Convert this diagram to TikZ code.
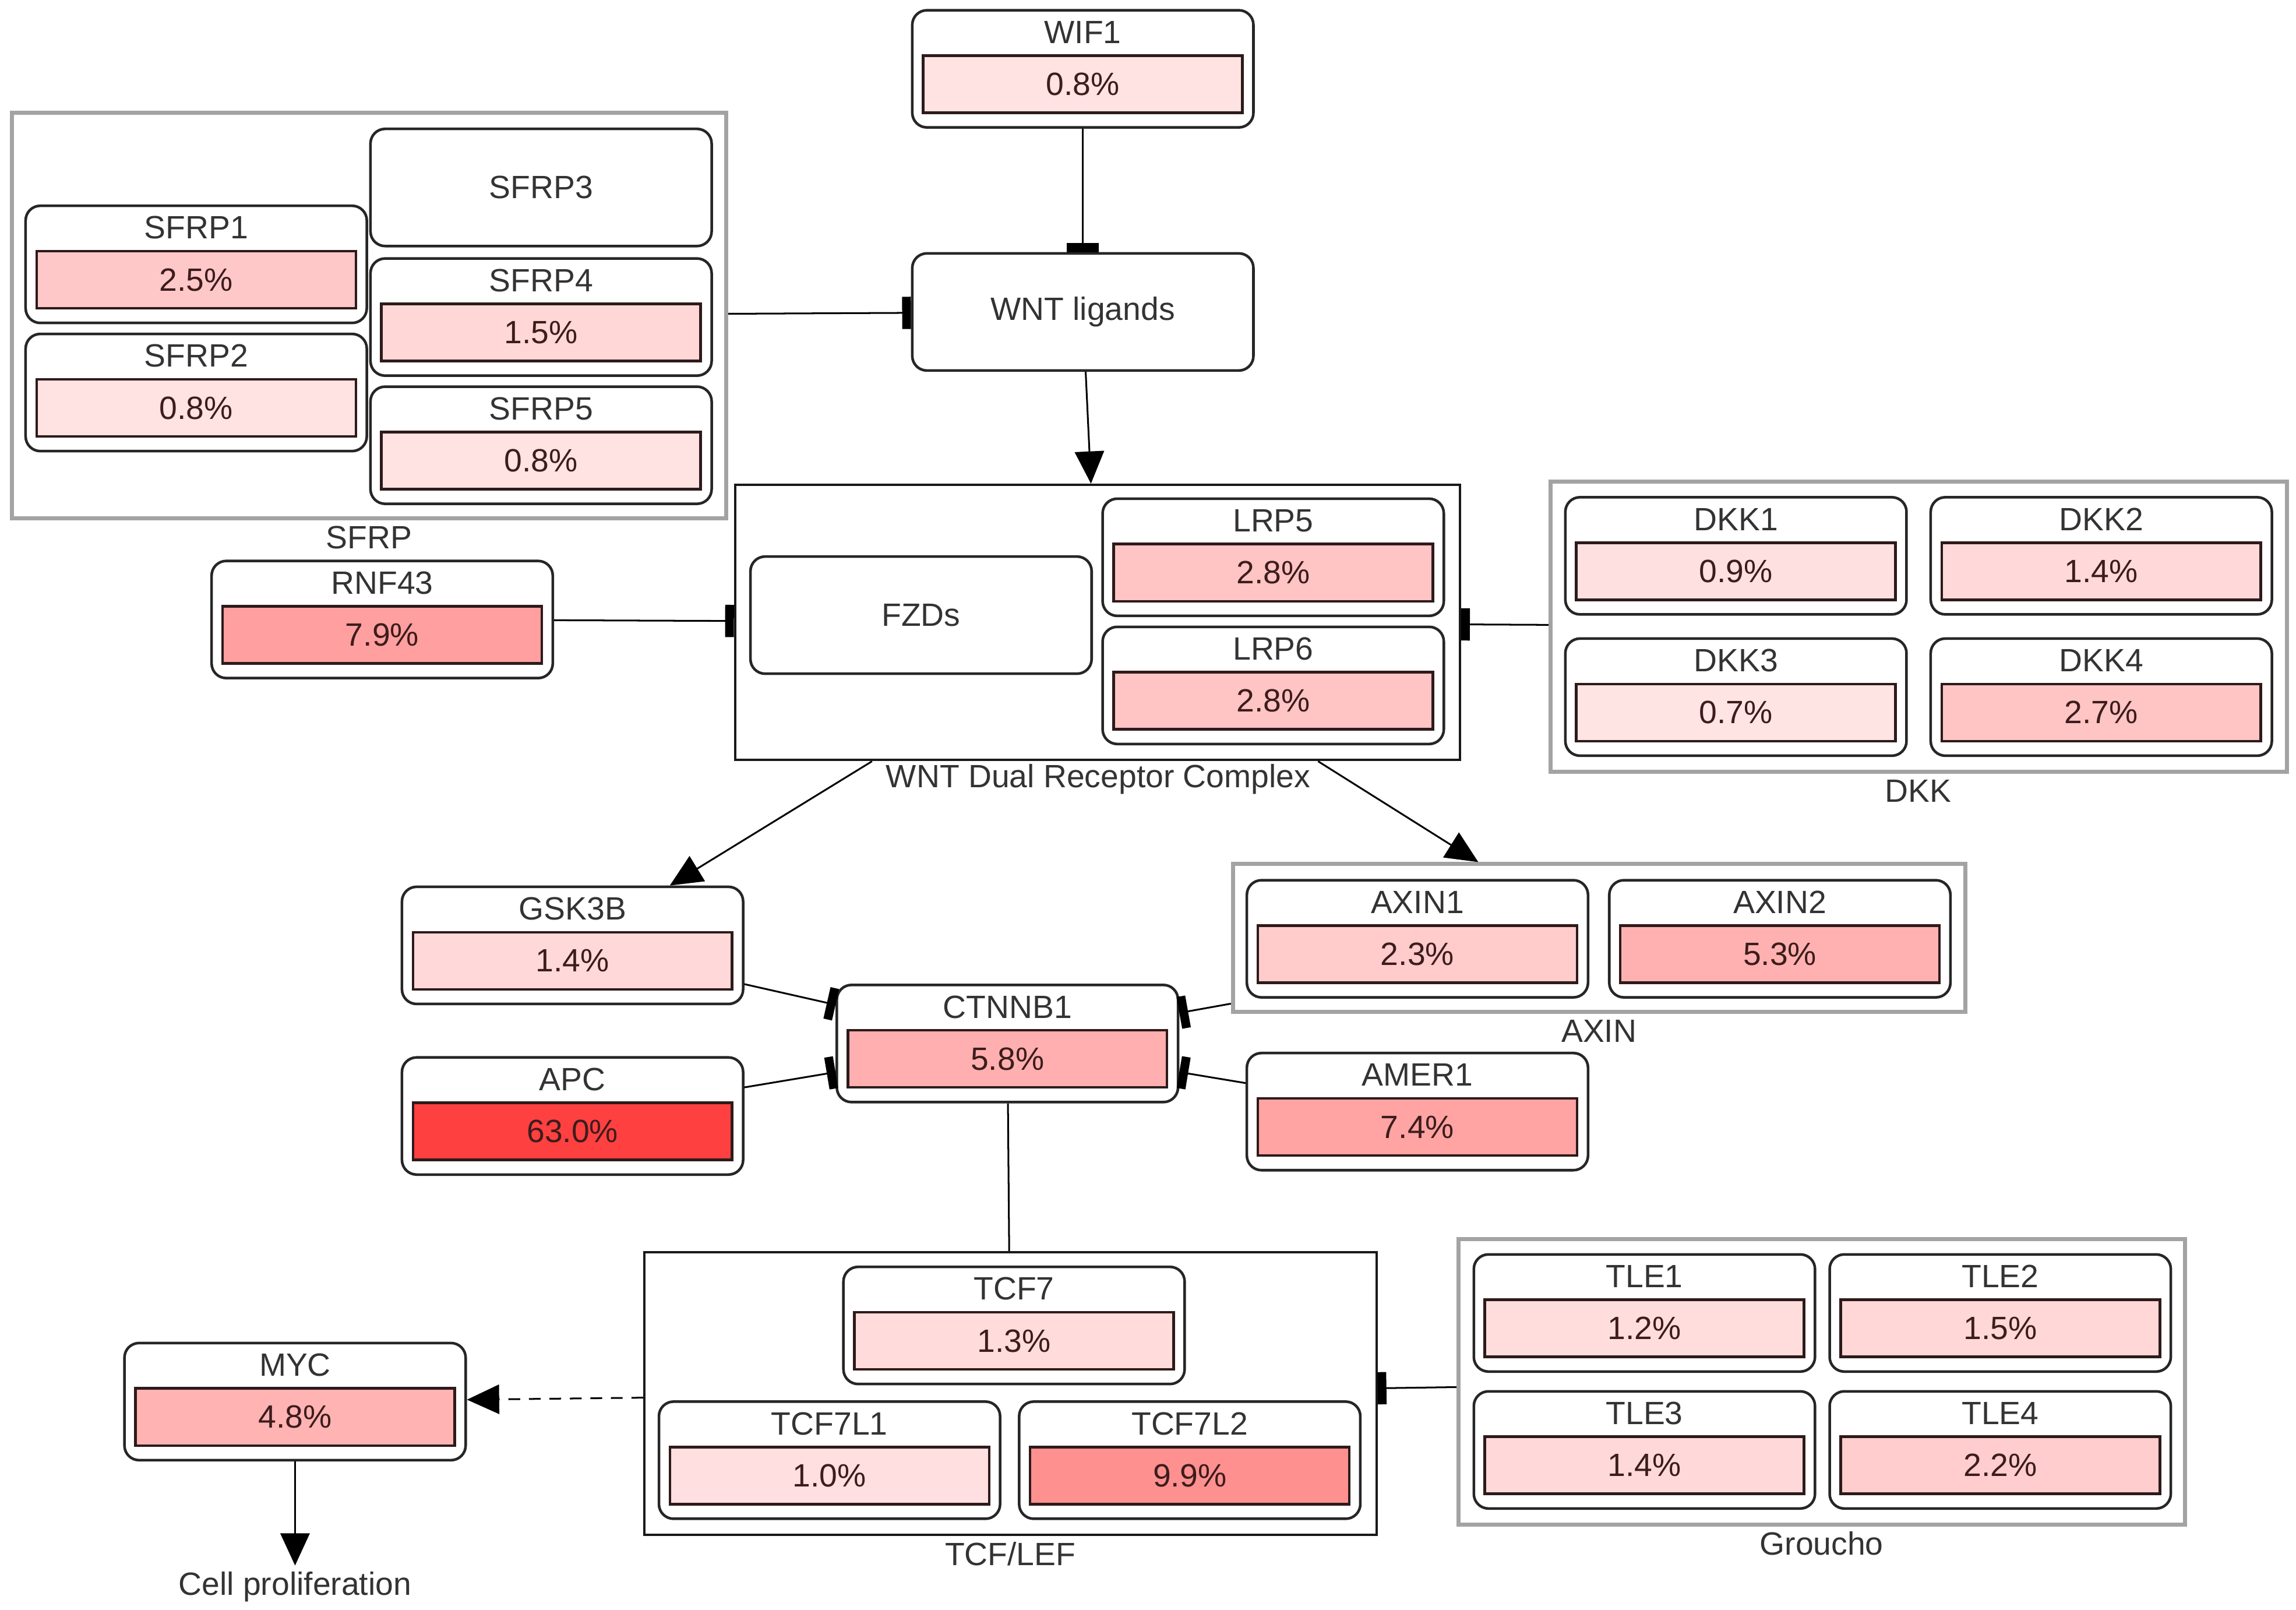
\documentclass[tikz,border=0pt]{standalone}
\usepackage{fontspec}
\setmainfont{Liberation Sans}
\usetikzlibrary{arrows.meta,positioning}

\definecolor{hot}{HTML}{FF4040}
\definecolor{titlegray}{HTML}{333333}
\definecolor{pcttext}{HTML}{3D1C1C}
\definecolor{barline}{HTML}{2E1A1A}
\definecolor{grpgray}{HTML}{A3A3A3}

\begin{document}
\begin{tikzpicture}[x=0.5pt, y=-0.5pt,
    every node/.style={font=\fontsize{11}{13}\selectfont, text=titlegray},
    gene/.style={draw=black!85, line width=0.9pt, rounded corners=5pt,
        minimum width=116.5pt, minimum height=40pt, inner sep=0pt},
    bar/.style={draw=barline, line width=0.9pt, minimum width=109pt,
        minimum height=19.5pt, inner sep=0pt, text=pcttext},
    grp/.style={draw=grpgray, line width=1.4pt, inner sep=0pt},
    cplx/.style={draw=black!90, line width=0.8pt, inner sep=0pt},
    act/.style={-{Triangle[length=11pt,width=10pt]}, line width=0.6pt},
    inh/.style={-{Rectangle[length=3pt,width=11pt]}, line width=0.6pt},
    lbl/.style={inner sep=2pt}]

    \useasboundingbox (0,0) rectangle (1568,1099.3);

    % groups and complexes
    \node[grp, minimum width=244pt, minimum height=138.5pt] (sfrp) at (252,215.5) {};
    \node[cplx, minimum width=247.5pt, minimum height=94pt] (wntc) at (749.5,425) {};
    \node[grp, minimum width=251.5pt, minimum height=99pt] (dkk) at (1310.5,428) {};
    \node[grp, minimum width=250pt, minimum height=50.5pt] (axin) at (1092,640.5) {};
    \node[cplx, minimum width=250pt, minimum height=96.5pt] (tcf) at (690,951.5) {};
    \node[grp, minimum width=248pt, minimum height=97.5pt] (groucho) at (1244,943.5) {};

    \node[lbl] (sfrp-l) at (252,367) {SFRP};
    \node[lbl] (wntc-l) at (750,532) {WNT Dual Receptor Complex};
    \node[lbl] (dkk-l) at (1310,540) {DKK};
    \node[lbl] (axin-l) at (1092,704) {AXIN};
    \node[lbl] (tcf-l) at (690,1061) {TCF/LEF};
    \node[lbl] (groucho-l) at (1244,1054) {Groucho};

    % boxes without a bar
    \node[gene] (SFRP3) at (369.5,128) {SFRP3};
    \node[gene] (WNT) at (739.5,213) {WNT ligands};
    \node[gene] (FZD) at (629,420) {FZDs};

    % genes with alteration bar
    \foreach \n/\x/\y/\p/\m in {WIF1/739.5/47/0.8/15, SFRP1/134/180.5/2.5/29,
        SFRP2/134/268/0.8/15, SFRP4/369.5/216.5/1.5/21, SFRP5/369.5/304/0.8/15,
        LRP5/869.5/380.5/2.8/31, LRP6/869.5/468/2.8/31, RNF43/261/423/7.9/50,
        DKK1/1185.5/379.5/0.9/16, DKK2/1435/379.5/1.4/20, DKK3/1185.5/476/0.7/14,
        DKK4/1435/476/2.7/31, GSK3B/391/645.5/1.4/20, APC/391/762/63.0/100,
        CTNNB1/688/712.5/5.8/42, AXIN1/968/641/2.3/27, AXIN2/1215.5/641/5.3/41,
        AMER1/968/759/7.4/48, TCF7/692.5/905/1.3/19, TCF7L1/566.5/997/1.0/17,
        TCF7L2/812.5/997/9.9/58, TLE1/1123/896.5/1.2/18, TLE2/1366/896.5/1.5/21,
        TLE3/1123/990/1.4/20, TLE4/1366/990/2.2/26, MYC/201.5/957/4.8/40} {
        \node[gene] (\n) at (\x,\y) {};
        \node (\n-t) at ([yshift=12.5pt]\n.center) {\n};
        \node[bar, fill=hot!\m!white] (\n-p) at ([yshift=-5.25pt]\n.center) {\p\%};
    }

    \node[lbl, below=35.5pt of MYC] (cellp) {Cell proliferation};

    % interactions
    \draw[inh] (WIF1) -- (WNT);
    \draw[inh] (sfrp) -- (WNT);
    \draw[act] (WNT) -- (wntc);
    \draw[inh] (RNF43) -- (wntc);
    \draw[inh] (dkk) -- (wntc);
    \draw[act] (wntc) -- (GSK3B);
    \draw[act] (wntc) -- (axin);
    \draw[inh] (GSK3B) -- (CTNNB1);
    \draw[inh] (APC) -- (CTNNB1);
    \draw[inh] (axin) -- (CTNNB1);
    \draw[inh] (AMER1) -- (CTNNB1);
    \draw[line width=0.6pt] (CTNNB1) -- (tcf);
    \draw[inh] (groucho) -- (tcf);
    \draw[act, dash pattern=on 4pt off 3pt] (tcf) -- (MYC);
    \draw[act] (MYC) -- (cellp);

\end{tikzpicture}
\end{document}
